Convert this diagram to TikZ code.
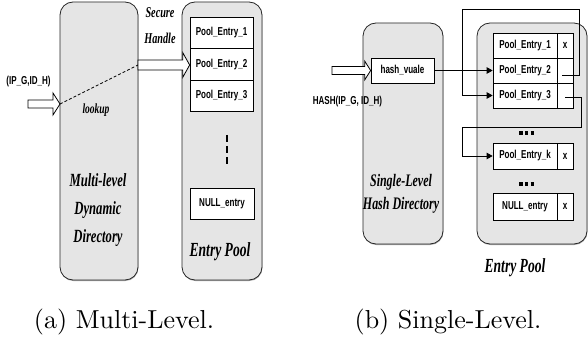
\documentclass[tikz,border=0pt]{standalone}
\usepackage{fontspec}
\newfontfamily\condserif{Liberation Serif}[FakeStretch=0.68]
\newfontfamily\condsans{Liberation Sans}[FakeStretch=0.7]
\newfontfamily\capfont{lmroman10-regular.otf}
\usetikzlibrary{arrows.meta,calc,shadows}
\newcommand\blockarrow[5]{%
  \draw[hollow] let \p1=(#1), \p2=(#2) in
    (\x1,\y1+#3pt) -- (\x2-#5pt,\y1+#3pt) -- (\x2-#5pt,\y1+#4pt) -- (\x2,\y1)
    -- (\x2-#5pt,\y1-#4pt) -- (\x2-#5pt,\y1-#3pt) -- (\x1,\y1-#3pt) -- cycle;}
\begin{document}
\begin{tikzpicture}[x=1pt,y=-1pt,
  panel/.style={draw=black!85, line width=0.8pt, fill=black!10, rounded corners=13pt,
    drop shadow={shadow xshift=0.4pt, shadow yshift=-1pt, fill=black!65}},
  cell/.style={draw=black, line width=0.7pt, fill=white, inner sep=0pt,
    font=\condsans\bfseries\fontsize{11.5}{13}\selectfont},
  lbl/.style={inner sep=0pt, font=\condsans\bfseries\fontsize{11.5}{13}\selectfont},
  title/.style={inner sep=0pt, align=center},
  hollow/.style={draw=black, line width=0.8pt, fill=white},
  link/.style={draw=black, line width=0.7pt},
  tip/.style={-{Triangle[length=6pt,width=6.5pt]}},
  capt/.style={inner sep=0pt, anchor=base, font=\capfont\fontsize{26}{30}\selectfont}
]
\path[fill=white, use as bounding box] (0,0) rectangle (588,339);

% ---------- (a) Multi-Level ----------
\node[panel, minimum width=78pt, minimum height=278pt] (dirA) at (99,141) {};
\node[panel, minimum width=80pt, minimum height=278pt] (poolA) at (222,141) {};

\node[cell, minimum width=63pt, minimum height=31.3pt] (a1) at (221.5,33) {Pool\_Entry\_1};
\node[cell, minimum width=63pt, minimum height=31.3pt] (a2) at (221.5,64.3) {Pool\_Entry\_2};
\node[cell, minimum width=63pt, minimum height=31.3pt] (a3) at (221.5,95.6) {Pool\_Entry\_3};
\node[cell, minimum width=64pt, minimum height=31pt] (anull) at (222,203.5) {NULL\_entry};

\coordinate (dA1) at (227,135);
\coordinate (dA2) at (227,164);
\draw[line width=2.8pt, dash pattern=on 7pt off 4pt] (dA1) -- (dA2);

\node[lbl] (inA) at (28.5,82) {(IP\_G,ID\_H)};
\coordinate (inAs) at (28,104);
\coordinate (inAe) at (60,104);
\blockarrow{inAs}{inAe}{4}{11}{7}

\coordinate (lkA) at (138,65);
\draw[link, dashed, dash pattern=on 3pt off 2pt] (inAe) -- (lkA);
\coordinate (hAe) at (a2.west);
\blockarrow{lkA}{hAe}{5}{12.5}{7}

\node[title, font=\condserif\bfseries\itshape\fontsize{14}{16}\selectfont] (lookup) at (96,110) {lookup};
\node[title, font=\condserif\bfseries\itshape\fontsize{15}{26}\selectfont] (secure) at (160,26) {Secure\\Handle};
\node[title, font=\condserif\bfseries\itshape\fontsize{18.6}{28}\selectfont] (mldd) at (98,210) {Multi-level\\Dynamic\\Directory};
\node[title, font=\condserif\bfseries\itshape\fontsize{20}{24}\selectfont] (epA) at (220,252) {Entry Pool};

% ---------- (b) Single-Level ----------
\node[panel, minimum width=80pt, minimum height=221pt] (dirB) at (403,133.5) {};
\node[panel, minimum width=110pt, minimum height=221pt] (poolB) at (532,133.5) {};

\node[cell, minimum width=63pt, minimum height=25pt] (hash) at (402.5,70.5) {hash\_vuale};

\node[cell, minimum width=64pt, minimum height=25pt] (b1) at (525,45.5) {Pool\_Entry\_1};
\node[cell, minimum width=16pt, minimum height=25pt] (x1) at (565,45.5) {x};
\node[cell, minimum width=64pt, minimum height=25pt] (b2) at (525,70.5) {Pool\_Entry\_2};
\node[cell, minimum width=16pt, minimum height=25pt] (x2) at (565,70.5) {};
\node[cell, minimum width=64pt, minimum height=25pt] (b3) at (525,95.5) {Pool\_Entry\_3};
\node[cell, minimum width=16pt, minimum height=25pt] (x3) at (565,95.5) {};
\node[cell, minimum width=64pt, minimum height=26pt] (bk) at (525,156) {Pool\_Entry\_k};
\node[cell, minimum width=16pt, minimum height=26pt] (xk) at (565,156) {x};
\node[cell, minimum width=64pt, minimum height=27pt] (bnull) at (525,206.5) {NULL\_entry};
\node[cell, minimum width=16pt, minimum height=27pt] (xnull) at (565,206.5) {x};

\coordinate (dB1) at (519,133);
\coordinate (dB2) at (534,133);
\draw[line width=4pt, dash pattern=on 3.5pt off 2.25pt] (dB1) -- (dB2);
\coordinate (dB3) at (519,184);
\coordinate (dB4) at (534,184);
\draw[line width=4pt, dash pattern=on 3.5pt off 2.25pt] (dB3) -- (dB4);

\node[lbl] (hashlbl) at (347.5,102) {HASH(IP\_G, ID\_H)};
\coordinate (inBs) at (332,70.5);
\coordinate (inBe) at (hash.west);
\blockarrow{inBs}{inBe}{4}{9.5}{6}

\draw[link, tip] (hash.east) -- (b2.west);

\coordinate (s2) at ($(x2.center)+(-3,4.5)$);
\coordinate (r1) at (579,9);
\coordinate (l1) at (462,9);
\draw[link, tip] (s2) -| (r1) -- (l1) |- (b3.west);

\coordinate (s3) at ($(x3.center)+(0,1.5)$);
\coordinate (r2) at (581,127);
\coordinate (l2) at (462,127);
\draw[link, tip] (s3) -| (r2) -- (l2) |- (bk.west);

\node[title, font=\condserif\bfseries\itshape\fontsize{17.6}{23}\selectfont] (slhd) at (401,194) {Single-Level\\Hash Directory};
\node[title, font=\condserif\bfseries\itshape\fontsize{20}{24}\selectfont] (epB) at (515,268) {Entry Pool};

% ---------- captions ----------
\node[capt] (capa) at (124,328) {(a) Multi-Level.};
\node[capt] (capb) at (448,328) {(b) Single-Level.};
\end{tikzpicture}
\end{document}
